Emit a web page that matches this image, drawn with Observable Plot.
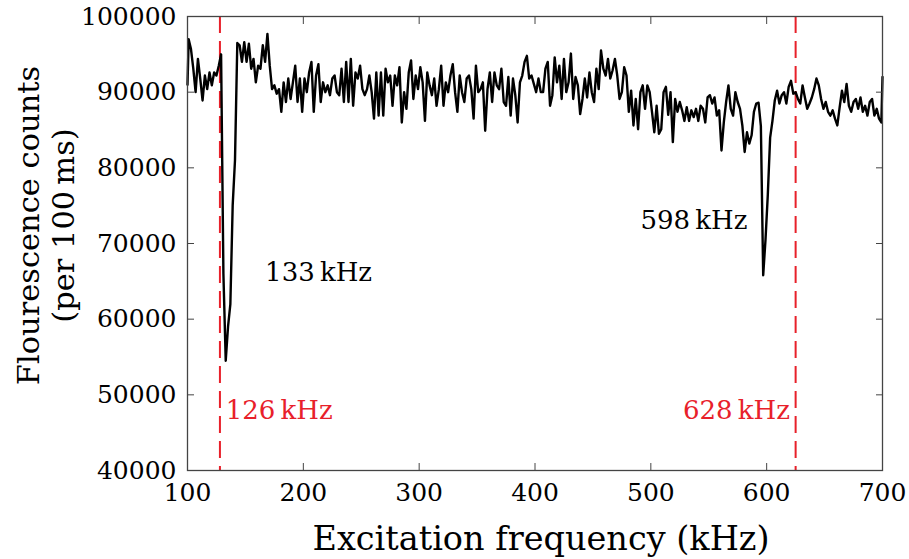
<!DOCTYPE html>
<html>
<head>
<meta charset="utf-8">
<script src="https://cdn.jsdelivr.net/npm/d3@7"></script>
<script src="https://cdn.jsdelivr.net/npm/@observablehq/plot@0.6"></script>
<style>
  html, body { margin: 0; padding: 0; background: #fff; }
  #chart svg { display: block; }
</style>
</head>
<body>
<div id="chart"></div>
<script>
// Excitation frequency grid (kHz)
const freq = [100, ...d3.range(101, 700, 2), 700];

// Fluorescence counts (per 100 ms)
const counts = [
  91000,
  97000, 95700, 93100, 90000, 94400, 91800, 88900, 92200, 90400, 92600,
  90900, 92600, 92200, 93500, 95000, 66000, 54500, 59000, 62000, 75000,
  81000, 96500, 96200, 94000, 96600, 94000, 96400, 93100, 94400, 91300,
  93500, 93100, 96200, 94000, 97700, 93500, 90400, 90900, 89800, 90400,
  87400, 91300, 88700, 91800, 89100, 91300, 93500, 88700, 91800, 87400,
  91800, 90000, 92600, 94000, 87400, 92200, 93700, 88700, 91300, 90000,
  90900, 89600, 91800, 92200, 90000, 89600, 93100, 88700, 94000, 88700,
  94400, 88200, 92600, 91800, 93500, 90400, 89600, 90400, 92200, 90000,
  86500, 92600, 86900, 92600, 86900, 93100, 91300, 92200, 88200, 92200,
  90900, 93300, 86000, 90000, 87800, 92600, 94200, 89100, 92200, 90400,
  93300, 91300, 86200, 92600, 90900, 89600, 91800, 88200, 90400, 93500,
  88200, 91300, 90000, 92200, 93700, 90000, 87400, 92200, 90000, 88700,
  91800, 92200, 90400, 86500, 93500, 90000, 90400, 91300, 84900, 90400,
  92600, 88700, 92600, 90900, 90400, 93100, 88700, 88200, 92000, 86900,
  91800, 89600, 86000, 91300, 92200, 94000, 94800, 91800, 92200, 91100,
  90000, 91800, 90000, 90000, 93100, 94000, 88200, 89600, 94600, 91300,
  93500, 89100, 94400, 90000, 91300, 95100, 89100, 92000, 90900, 87100,
  89100, 91800, 89300, 92600, 90000, 88700, 93100, 90400, 95500, 93100,
  92200, 94400, 91800, 92900, 94400, 92200, 89100, 90000, 93300, 92200,
  87400, 90200, 85600, 89100, 85100, 90000, 90900, 87800, 90900, 90000,
  87400, 84700, 88200, 84500, 85100, 90000, 90700, 87000, 90000, 83400,
  89100, 87400, 88700, 87600, 86200, 88000, 86200, 87600, 86700, 87800,
  86200, 88200, 87800, 86000, 89300, 89600, 88500, 89300, 86900, 87600,
  82300, 86000, 88700, 90900, 87800, 86900, 90000, 88700, 87800, 85600,
  82100, 84700, 83200, 84300, 87400, 88500, 88600, 85500, 65800, 70500,
  76500, 84000, 86200, 88900, 90200, 88500, 89600, 90000, 88500, 90700,
  91500, 89800, 90000, 89100, 88500, 90900, 89300, 87800, 88500, 89300,
  90400, 91800, 90900, 89100, 87800, 88700, 87400, 86900, 87600, 86500,
  85600, 88000, 90200, 88700, 91100, 88200, 87400, 88700, 89100, 87800,
  89300, 87400, 88200, 86900, 88700, 89100, 86900, 87800, 86500, 86000,
  92000
];

// Axis ticks
const xTicks = [100, 200, 300, 400, 500, 600, 700];
const yTicks = [40000, 50000, 60000, 70000, 80000, 90000, 100000];

// Dashed marker lines (as drawn) and their labels
const markerFreq = [128, 625];
const markerText = ["126\u2009kHz", "628\u2009kHz"];
const markerTextX = [133, 620];
const markerTextY = [47900, 47900];

// Resonance labels
const peakText = ["133\u2009kHz", "598\u2009kHz"];
const peakTextX = [167, 491];
const peakTextY = [66200, 73000];

const series = freq.map((f, i) => ({f, c: counts[i]}));
const markers = markerFreq.map((f, i) => ({f, text: markerText[i], tx: markerTextX[i], ty: markerTextY[i]}));
const peaks = peakText.map((t, i) => ({text: t, x: peakTextX[i], y: peakTextY[i]}));

const RED = "#e8202a";
const AXIS = "#444";
const FONT = "DejaVu Serif";

const chart = Plot.plot({
  width: 909,
  height: 559,
  marginLeft: 187,
  marginRight: 27,
  marginTop: 16,
  marginBottom: 89,
  style: {fontFamily: FONT, background: "#fff", color: "#000"},
  x: {domain: [100, 700]},
  y: {domain: [40000, 100000]},
  marks: [
    Plot.ruleX(markers, {x: "f", stroke: RED, strokeWidth: 2, strokeDasharray: "17,8"}),
    Plot.line(series, {x: "f", y: "c", stroke: "#000", strokeWidth: 2.4, strokeLinejoin: "round"}),
    Plot.frame({stroke: AXIS, strokeWidth: 1.3}),
    Plot.axisX({ticks: xTicks, anchor: "bottom", tickSize: -7, tickPadding: 20, stroke: AXIS, fontSize: 25, tickFormat: d => String(d), label: null}),
    Plot.axisX({ticks: xTicks, anchor: "top", tickSize: -7, stroke: AXIS, tickFormat: () => "", label: null}),
    Plot.axisY({ticks: yTicks, anchor: "left", tickSize: -7, tickPadding: 18, stroke: AXIS, fontSize: 25, tickFormat: d => String(d), label: null}),
    Plot.axisY({ticks: yTicks, anchor: "right", tickSize: -7, stroke: AXIS, tickFormat: () => "", label: null}),
    Plot.text(peaks, {x: "x", y: "y", text: "text", textAnchor: "start", fontSize: 26, fill: "#000"}),
    Plot.text(markers.slice(0, 1), {x: "tx", y: "ty", text: "text", textAnchor: "start", fontSize: 26, fill: RED}),
    Plot.text(markers.slice(1), {x: "tx", y: "ty", text: "text", textAnchor: "end", fontSize: 26, fill: RED}),
    Plot.text(["Excitation frequency (kHz)"], {frameAnchor: "bottom", textAnchor: "middle", dx: 6, dy: 79, fontSize: 33.5, fill: "#000"}),
    Plot.text(["Flourescence counts\n(per 100\u2009ms)"], {frameAnchor: "left", textAnchor: "middle", lineAnchor: "middle", rotate: -90, dx: -142, dy: -18, fontSize: 30.5, lineHeight: 1.12, fill: "#000"})
  ]
});

document.getElementById("chart").appendChild(chart);
</script>
</body>
</html>
